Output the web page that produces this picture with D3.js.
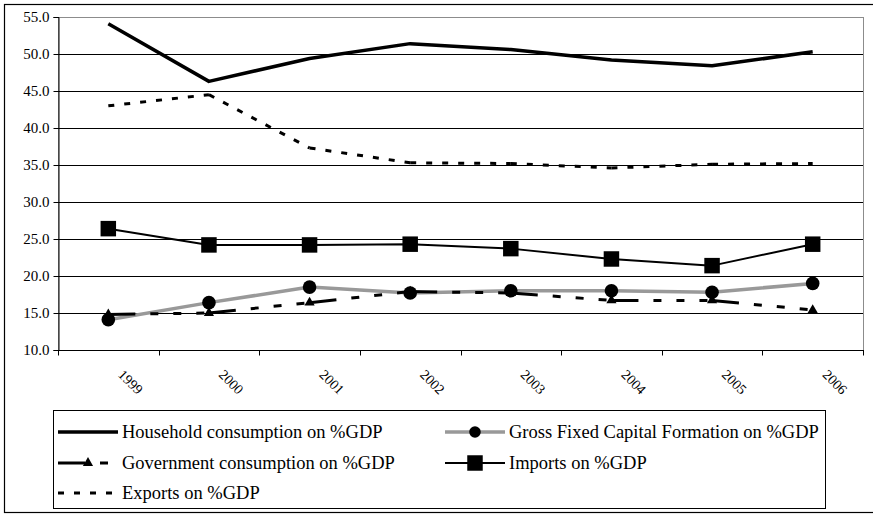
<!DOCTYPE html>
<html>
<head>
<meta charset="utf-8">
<script src="https://cdn.jsdelivr.net/npm/d3@7"></script>
<style>
  html, body { margin: 0; padding: 0; background: #fff; }
  svg { display: block; }
  text { font-family: "Liberation Serif", "Times New Roman", serif; fill: #000; }
</style>
</head>
<body>
<svg id="chart" width="873" height="518"></svg>
<script>
// Demand components as share of GDP, 1999–2006
const years = ["1999", "2000", "2001", "2002", "2003", "2004", "2005", "2006"];
const household  = [54.1, 46.3, 49.4, 51.4, 50.6, 49.2, 48.4, 50.3];
const gfcf       = [14.1, 16.4, 18.5, 17.7, 18.0, 18.0, 17.8, 19.0];
const government = [14.8, 15.0, 16.4, 17.9, 17.7, 16.7, 16.7, 15.4];
const imports    = [26.4, 24.2, 24.2, 24.3, 23.7, 22.3, 21.4, 24.3];
const exports    = [43.0, 44.5, 37.3, 35.3, 35.2, 34.6, 35.1, 35.2];
const yTicks     = [10, 15, 20, 25, 30, 35, 40, 45, 50, 55];

const series = [
  { name: "Household consumption on %GDP", values: household, color: "#000", width: 3.5, dash: null, marker: null },
  { name: "Gross Fixed Capital Formation on %GDP", values: gfcf, color: "#999", width: 3.5, dash: null, marker: "circle" },
  { name: "Government consumption on %GDP", values: government, color: "#000", width: 3, dash: "27,15,8,15,8,15,8,15", marker: "triangle" },
  { name: "Imports on %GDP", values: imports, color: "#000", width: 2, dash: null, marker: "square" },
  { name: "Exports on %GDP", values: exports, color: "#000", width: 3, dash: "6,10", marker: null }
];

const svg = d3.select("#chart");
const plot = { left: 58, right: 863, top: 17, bottom: 350 };

// outer chart frame
svg.append("rect")
  .attr("x", 4.5).attr("y", 4.5)
  .attr("width", 890).attr("height", 508)
  .attr("fill", "none").attr("stroke", "#000").attr("stroke-width", 1.2);

const x = d3.scaleBand().domain(years).range([plot.left, plot.right]).padding(0);
const y = d3.scaleLinear().domain([10, 55]).range([plot.bottom, plot.top]);
const cx = d => x(d) + x.bandwidth() / 2;

// plot area border
svg.append("rect")
  .attr("x", plot.left + 0.5).attr("y", plot.top + 0.5)
  .attr("width", plot.right - plot.left).attr("height", plot.bottom - plot.top)
  .attr("fill", "none").attr("stroke", "#8c8c8c").attr("stroke-width", 1);

// horizontal gridlines
svg.append("g").selectAll("line")
  .data(yTicks.filter(t => t > 10 && t < 55))
  .join("line")
  .attr("x1", plot.left).attr("x2", plot.right)
  .attr("y1", d => Math.round(y(d)) + 0.5).attr("y2", d => Math.round(y(d)) + 0.5)
  .attr("stroke", "#000").attr("stroke-width", 1);

// y axis
const yAxis = svg.append("g")
  .attr("transform", `translate(${plot.left + 0.5},0)`)
  .call(d3.axisLeft(y).tickValues(yTicks).tickFormat(d3.format(".1f")).tickSize(5).tickPadding(4));
yAxis.select(".domain").attr("stroke", "#000");
yAxis.selectAll(".tick line").attr("stroke", "#000");
yAxis.selectAll("text")
  .style("font-family", '"Liberation Serif", "Times New Roman", serif')
  .style("font-size", "15px").attr("fill", "#000");

// x axis with ticks on category boundaries
const xAxisG = svg.append("g").attr("transform", `translate(0,${plot.bottom + 0.5})`);
xAxisG.append("line")
  .attr("x1", plot.left).attr("x2", plot.right + 1)
  .attr("stroke", "#000");
const boundaries = years.map(d => x(d)).concat([plot.right]);
xAxisG.selectAll("line.tk").data(boundaries).join("line")
  .attr("class", "tk")
  .attr("x1", d => Math.round(d) + 0.5).attr("x2", d => Math.round(d) + 0.5)
  .attr("y1", 0).attr("y2", 5).attr("stroke", "#000");
xAxisG.selectAll("text").data(years).join("text")
  .attr("transform", d => `translate(${cx(d) + 9},${25}) rotate(45)`)
  .style("font-size", "14px")
  .text(d => d);

// series lines
const line = d3.line().x(d => d[0]).y(d => d[1]);
const symbolFor = { circle: null, triangle: d3.symbolTriangle, square: d3.symbolSquare };

function drawMarker(g, type, px, py, scale) {
  if (type === "circle") {
    g.append("circle").attr("cx", px).attr("cy", py).attr("r", 6.8 * scale).attr("fill", "#000");
  } else if (type === "triangle") {
    g.append("path").attr("d", d3.symbol(d3.symbolTriangle, 45 * scale * scale)())
      .attr("transform", `translate(${px},${py})`).attr("fill", "#000");
  } else if (type === "square") {
    g.append("path").attr("d", d3.symbol(d3.symbolSquare, 240 * scale * scale)())
      .attr("transform", `translate(${px},${py})`).attr("fill", "#000");
  }
}

series.forEach(s => {
  const g = svg.append("g");
  const pts = s.values.map((v, i) => [cx(years[i]), y(v)]);
  if (s.dash) {
    // dash pattern restarts at every data point
    for (let i = 0; i < pts.length - 1; i++) {
      g.append("path").attr("d", line([pts[i], pts[i + 1]]))
        .attr("fill", "none").attr("stroke", s.color).attr("stroke-width", s.width)
        .attr("stroke-dasharray", s.dash);
    }
  } else {
    g.append("path").attr("d", line(pts))
      .attr("fill", "none").attr("stroke", s.color).attr("stroke-width", s.width)
      .attr("stroke-linejoin", "round");
  }
  if (s.marker) pts.forEach(p => drawMarker(g, s.marker, p[0], p[1], 1));
});

// legend
const legend = svg.append("g");
legend.append("rect")
  .attr("x", 53.5).attr("y", 410.5).attr("width", 772).attr("height", 98)
  .attr("fill", "#fff").attr("stroke", "#000").attr("stroke-width", 1);

const slots = [
  { col: 0, row: 0 }, { col: 1, row: 0 },
  { col: 0, row: 1 }, { col: 1, row: 1 },
  { col: 0, row: 2 }
];
const colX = [58, 445];
const rowY = [432, 463, 493];

series.forEach((s, i) => {
  const sx = colX[slots[i].col], sy = rowY[slots[i].row];
  const g = legend.append("g");
  g.append("path").attr("d", line([[sx, sy], [sx + 60, sy]]))
    .attr("fill", "none").attr("stroke", s.color).attr("stroke-width", s.width)
    .attr("stroke-dasharray", s.dash ? s.dash : null);
  if (s.marker) drawMarker(g, s.marker, sx + 30, sy, s.marker === "circle" ? 0.85 : 1);
  g.append("text").attr("x", sx + 64).attr("y", sy + 5.5)
    .style("font-size", "18.5px").text(s.name);
});
</script>
</body>
</html>
